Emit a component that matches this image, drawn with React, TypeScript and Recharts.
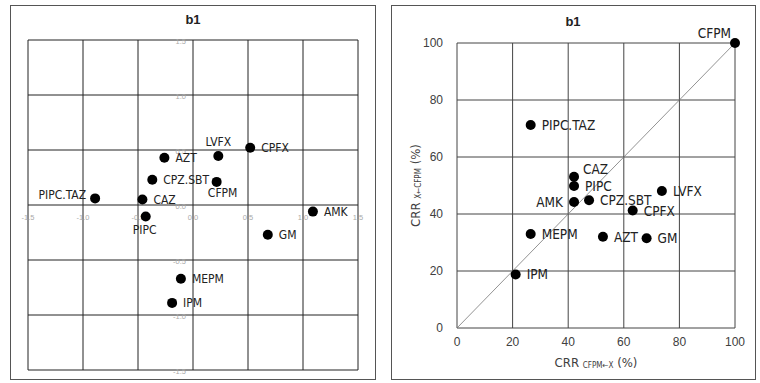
import {
  ScatterChart,
  Scatter,
  XAxis,
  YAxis,
  CartesianGrid,
  ReferenceDot,
  ReferenceLine,
} from "recharts";

// drugs, same order in every array
const drugs = ["LVFX", "CPFX", "AZT", "CPZ.SBT", "CFPM", "PIPC.TAZ", "CAZ", "PIPC", "AMK", "GM", "MEPM", "IPM"];

// left panel (b1, coordinates)
const dimX = [0.23, 0.52, -0.26, -0.37, 0.215, -0.89, -0.46, -0.43, 1.09, 0.68, -0.11, -0.19];
const dimY = [0.445, 0.52, 0.43, 0.23, 0.21, 0.06, 0.05, -0.105, -0.06, -0.27, -0.67, -0.89];
const dimTicks = [-1.5, -1.0, -0.5, 0.0, 0.5, 1.0, 1.5];

// right panel (b1, CRR %)
const crrFrom = [73.7, 63.2, 52.5, 47.5, 100, 26.5, 42.1, 42.1, 42.1, 68.2, 26.5, 21.1];
const crrTo = [48.1, 41.2, 32.0, 44.8, 100, 71.2, 53.1, 49.8, 44.2, 31.5, 33.0, 18.8];
const crrTicks = [0, 20, 40, 60, 80, 100];

const leftData = drugs.map((name, i) => ({ name, x: dimX[i], y: dimY[i] }));
const rightData = drugs.map((name, i) => ({ name, x: crrFrom[i], y: crrTo[i] }));

// label placement relative to the dot: [dx, dy, anchor]
const leftLabelPos: Record<string, [number, number, string]> = {
  LVFX: [0, -14, "middle"],
  CFPM: [6, 11, "middle"],
  PIPC: [-1, 13, "middle"],
  "PIPC.TAZ": [-9, -3, "end"],
};
const rightLabelPos: Record<string, [number, number, string]> = {
  CFPM: [-4, -10, "end"],
  CAZ: [9, -8, "start"],
  AMK: [-11, 0, "end"],
};

const FONT = "'Liberation Sans', Arial, sans-serif";
const NARROW = "'Liberation Sans Narrow', 'DejaVu Sans Condensed', 'Liberation Sans', sans-serif";

function makeDot(pos: Record<string, [number, number, string]>, fontSize: number) {
  return (props: any) => {
    const { cx, cy, payload } = props;
    const [dx, dy, anchor] = pos[payload.name] ?? [11, 0, "start"];
    return (
      <g>
        <circle cx={cx} cy={cy} r={5} fill="#000" />
        <text
          x={cx + dx}
          y={cy + dy}
          textAnchor={anchor as any}
          dominantBaseline="central"
          fontSize={fontSize}
          fontFamily={NARROW}
          fill="#222"
        >
          {payload.name}
        </text>
      </g>
    );
  };
}

const frame = (left: number, width: number) => ({
  position: "absolute" as const,
  left,
  top: 5,
  width,
  height: 375,
  border: "1.5px solid #555",
  boxSizing: "border-box" as const,
});

const title = (cx: number, top: number) => ({
  position: "absolute" as const,
  left: cx - 20,
  width: 40,
  top,
  textAlign: "center" as const,
  fontFamily: FONT,
  fontWeight: 700,
  fontSize: 13,
  color: "#222",
});

function LeftChart() {
  return (
    <ScatterChart width={380} height={383} margin={{ top: 40, right: 22, bottom: 13, left: 28 }}>
      <XAxis type="number" dataKey="x" domain={[-1.5, 1.5]} ticks={dimTicks} hide />
      <YAxis type="number" dataKey="y" domain={[-1.5, 1.5]} ticks={dimTicks} hide />
      <CartesianGrid stroke="#222" strokeOpacity={1} horizontalValues={dimTicks} verticalValues={dimTicks} />
      {dimTicks.map((t) => (
        <ReferenceDot
          key={"x" + t}
          x={t}
          y={0}
          r={0}
          fill="none"
          stroke="none"
          ifOverflow="visible"
          label={(p: any) => (
            <text
              x={p.viewBox.x}
              y={p.viewBox.y + 12}
              textAnchor="middle"
              dominantBaseline="central"
              fontSize={7.5}
              fontFamily={FONT}
              fill="#aaa"
            >
              {t.toFixed(1)}
            </text>
          )}
        />
      ))}
      {dimTicks.map((t) => (
        <ReferenceDot
          key={"y" + t}
          x={0}
          y={t}
          r={0}
          fill="none"
          stroke="none"
          ifOverflow="visible"
          label={(p: any) => (
            <text
              x={p.viewBox.x - 7}
              y={p.viewBox.y + 1}
              textAnchor="end"
              dominantBaseline="central"
              fontSize={7.5}
              fontFamily={FONT}
              fill="#aaa"
            >
              {t.toFixed(1)}
            </text>
          )}
        />
      ))}
      <Scatter data={leftData} shape={makeDot(leftLabelPos, 12)} isAnimationActive={false} />
    </ScatterChart>
  );
}

function RightChart() {
  return (
    <ScatterChart width={380} height={383} margin={{ top: 43, right: 25, bottom: 15, left: 17 }}>
      <CartesianGrid stroke="#444" strokeOpacity={1} horizontalValues={crrTicks} verticalValues={crrTicks} />
      <XAxis
        type="number"
        dataKey="x"
        domain={[0, 100]}
        ticks={crrTicks}
        height={40}
        axisLine={false}
        tickLine={false}
        tickSize={0}
        tickMargin={9}
        tick={{ fontSize: 12, fill: "#404040", fontFamily: FONT }}
        label={(p: any) => (
          <text
            x={p.viewBox.x + p.viewBox.width / 2}
            y={p.viewBox.y + 34}
            textAnchor="middle"
            dominantBaseline="central"
            fontSize={13}
            fontFamily={NARROW}
            fill="#404040"
          >
            CRR <tspan fontSize={8} dy={3}>CFPM←X</tspan>
            <tspan dy={-3}> (%)</tspan>
          </text>
        )}
      />
      <YAxis
        type="number"
        dataKey="y"
        domain={[0, 100]}
        ticks={crrTicks}
        width={60}
        axisLine={false}
        tickLine={false}
        tickSize={0}
        tickMargin={14}
        tick={{ fontSize: 12, fill: "#404040", fontFamily: FONT }}
        label={(p: any) => {
          const cx = p.viewBox.x + 18;
          const cy = p.viewBox.y + p.viewBox.height / 2;
          return (
            <text
              x={cx}
              y={cy}
              transform={`rotate(-90 ${cx} ${cy})`}
              textAnchor="middle"
              dominantBaseline="central"
              fontSize={13}
              fontFamily={NARROW}
              fill="#404040"
            >
              CRR <tspan fontSize={8} dy={3}>X←CFPM</tspan>
              <tspan dy={-3}> (%)</tspan>
            </text>
          );
        }}
      />
      <ReferenceLine
        segment={[
          { x: 0, y: 0 },
          { x: 100, y: 100 },
        ]}
        stroke="#777"
        strokeWidth={0.8}
      />
      <Scatter data={rightData} shape={makeDot(rightLabelPos, 13.5)} isAnimationActive={false} />
    </ScatterChart>
  );
}

export default function App() {
  return (
    <div style={{ position: "absolute", left: 0, top: 0, width: 760, height: 383, background: "#fff" }}>
      <div style={frame(10, 366)} />
      <div style={frame(391, 365)} />
      <div style={{ position: "absolute", left: 0, top: 0 }}>
        <LeftChart />
      </div>
      <div style={{ position: "absolute", left: 380, top: 0 }}>
        <RightChart />
      </div>
      <div style={title(193, 12)}>b1</div>
      <div style={title(573, 14)}>b1</div>
    </div>
  );
}
